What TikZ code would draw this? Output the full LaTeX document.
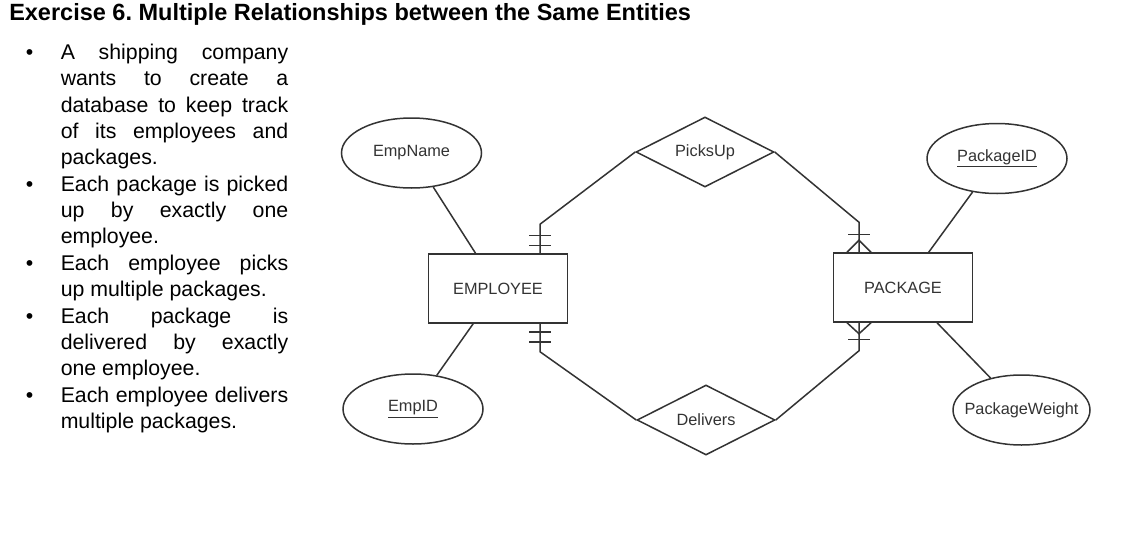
\documentclass[tikz,border=0pt]{standalone}
\usepackage{fontspec}
\setmainfont{Liberation Sans}
\frenchspacing
\usetikzlibrary{shapes.geometric,calc}
\definecolor{ink}{HTML}{333333}
\tikzset{
every picture/.style={
line width=1.5pt
}}
\tikzset{
  erfont/.style={font=\fontsize{16.3}{19}\selectfont, text=ink},
  attr/.style={ellipse, draw=ink, erfont, minimum width=140pt, minimum height=70pt, inner sep=0pt},
  entity/.style={rectangle, draw=ink, erfont, minimum width=139pt, minimum height=69pt, inner sep=0pt},
  rel/.style={diamond, draw=ink, erfont, aspect=2, minimum width=138pt, minimum height=70pt, inner sep=0pt},
  link/.style={draw=ink}
}

\begin{document}
\begin{tikzpicture}[x=1pt, y=-1pt]
  \useasboundingbox[fill=white] (0,0) rectangle (1125,533);

  % heading and the bullet list
  \node[anchor=base west, inner sep=0pt, font=\fontsize{23.5}{27}\selectfont\bfseries] (title) at (8.5,20)
    {Exercise 6. Multiple Relationships between the Same Entities};
  \foreach \txt/\mode [count=\i from 0] in {A shipping company/s, wants to create a/s,
      database to keep track/s, of its employees and/s, packages./l,
      Each package is picked/s, up by exactly one/s, employee./l,
      Each employee picks/s, up multiple packages./l,
      Each package is/s, delivered by exactly/s, one employee./l,
      Each employee delivers/s, multiple packages./l}{
    \node[anchor=base west, inner sep=0pt, font=\fontsize{21.3}{26}\selectfont] (line\i)
      at (60,{59.5+26.35*\i}) {\makebox[227.5pt][\mode]{\txt}};
  }
  \foreach \i in {0,5,8,10,13}{
    \node[anchor=base west, inner sep=0pt, font=\fontsize{21.3}{26}\selectfont] (bul\i)
      at (25,{59.5+26.35*\i}) {•};
  }

  % entities, attributes, relationships
  \node[entity] (employee) at (498,288.5) {EMPLOYEE};
  \node[entity] (package) at (903,287.5) {PACKAGE};
  \node[attr] (empname) at (411.5,153) {EmpName};
  \node[attr] (empid) at (413,409) {\underline{EmpID}};
  \node[attr] (packageid) at (997,158.5) {\underline{PackageID}};
  \node[attr, minimum width=137pt] (pkgweight) at (1021.5,410) {\makebox[0pt]{PackageWeight}};
  \node[rel] (picksup) at (705,152) {PicksUp};
  \node[rel] (delivers) at (706,420) {Delivers};

  \draw[link] (empname) -- (employee);
  \draw[link] (empid) -- (employee);
  \draw[link] (packageid) -- (package);
  \draw[link] (pkgweight) -- (package);

  \coordinate (eup) at ([xshift=42pt]employee.north);
  \coordinate (edown) at ([xshift=42pt]employee.south);
  \coordinate (pup) at ([xshift=-44pt]package.north);
  \coordinate (pdown) at ([xshift=-44pt]package.south);

  \draw[link] (eup) -- ++(0,-29) -- (picksup.west);
  \draw[link] (pup) -- ++(0,-30) -- (picksup.east);
  \draw[link] (edown) -- ++(0,28) -- (delivers.west);
  \draw[link] (pdown) -- ++(0,28) -- (delivers.east);

  % exactly one on the employee side
  \foreach \d in {8,18}{
    \draw[link] ([xshift=-11pt,yshift=\d pt]eup) -- ++(22,0);
    \draw[link] ([xshift=-11pt,yshift=-\d pt]edown) -- ++(22,0);
  }
  % one or many on the package side
  \draw[link] ([xshift=-12pt]pup) -- ([yshift=12pt]pup) -- ([xshift=12pt]pup);
  \draw[link] ([xshift=-11pt,yshift=18pt]pup) -- ++(22,0);
  \draw[link] ([xshift=-12pt]pdown) -- ([yshift=-11pt]pdown) -- ([xshift=12pt]pdown);
  \draw[link] ([xshift=-11pt,yshift=-16.5pt]pdown) -- ++(22,0);
\end{tikzpicture}
\end{document}
